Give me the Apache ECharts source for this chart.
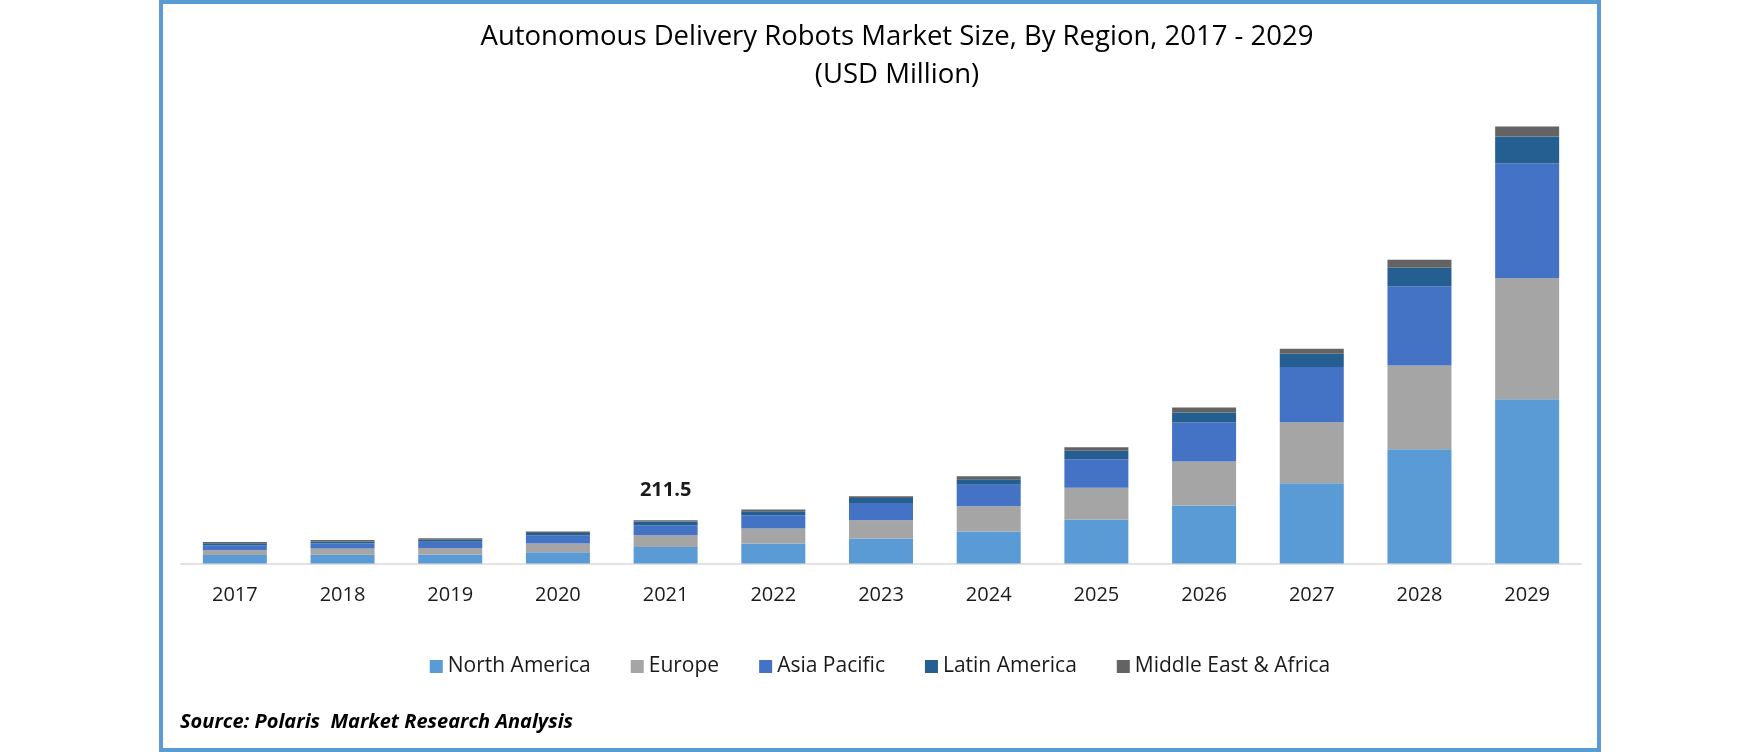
<!DOCTYPE html>
<html>
<head>
<meta charset="utf-8">
<title>Autonomous Delivery Robots Market Size</title>
<script src="https://cdn.jsdelivr.net/npm/echarts@6/dist/echarts.min.js"></script>
<style>
    html, body { margin: 0; padding: 0; background: #fff; }
    #chart { width: 1760px; height: 752px; }
</style>
</head>
<body>
<div id="chart"></div>
<script>
// values (USD million)
const years = ["2017", "2018", "2019", "2020", "2021", "2022", "2023", "2024", "2025", "2026", "2027", "2028", "2029"];
const northAmerica = [42, 43, 44, 55, 81, 97.6, 122, 156, 215, 284, 392, 558, 802];
const europe = [23, 30, 32, 42.5, 57.1, 73.2, 89.3, 124, 155, 215, 298, 410, 592];
const asiaPacific = [24.4, 25, 30, 40.5, 48.8, 64.9, 84.4, 105, 140, 190, 270, 387, 560];
const latinAmerica = [9.8, 9.5, 10, 11.2, 18.1, 19.5, 24.4, 26.4, 40.5, 48.8, 65.4, 89.8, 132];
const middleEastAfrica = [6.3, 7.5, 7, 6.8, 6.5, 8.3, 8.3, 14.6, 18, 24.4, 24.4, 39, 48.8];

const labelYear = "2021";
const labelValue = 211.5;

const regions = [
    { name: "North America", data: northAmerica, color: "#5B9BD5" },
    { name: "Europe", data: europe, color: "#A5A5A5" },
    { name: "Asia Pacific", data: asiaPacific, color: "#4472C4" },
    { name: "Latin America", data: latinAmerica, color: "#255E91" },
    { name: "Middle East & Africa", data: middleEastAfrica, color: "#636363" }
];

const font = "'Open Sans', 'Noto Sans', sans-serif";

const series = regions.map((r, i) => {
    const last = i === regions.length - 1;
    return {
        name: r.name,
        type: "bar",
        stack: "total",
        barWidth: 64,
        itemStyle: { color: r.color },
        data: r.data.map((v, k) => {
            if (last && years[k] === labelYear) {
                return {
                    value: v,
                    label: {
                        show: true,
                        position: "top",
                        distance: 20,
                        formatter: () => String(labelValue),
                        fontFamily: font,
                        fontSize: 20,
                        fontWeight: "bold",
                        color: "#1a1a1a"
                    }
                };
            }
            return v;
        })
    };
});

const chart = echarts.init(document.getElementById("chart"));

chart.setOption({
    backgroundColor: "#fff",
    animation: false,
    title: {
        text: "Autonomous Delivery Robots Market Size, By Region, 2017 - 2029\n(USD Million)",
        left: 892,
        top: 13,
        textAlign: "center",
        textStyle: {
            fontFamily: font,
            fontSize: 27.5,
            fontWeight: "normal",
            color: "#000",
            lineHeight: 38
        }
    },
    legend: {
        top: 651,
        left: "center",
        icon: "rect",
        itemWidth: 13,
        itemHeight: 13,
        itemGap: 40,
        textStyle: { fontFamily: font, fontSize: 21, color: "#1a1a1a" },
        data: regions.map(r => r.name)
    },
    grid: {
        left: 181,
        right: 179,
        top: 101,
        bottom: 188.5,
        containLabel: false
    },
    xAxis: {
        type: "category",
        data: years,
        axisLine: { lineStyle: { color: "#D9D9D9", width: 1.5 } },
        axisTick: { show: false },
        axisLabel: {
            margin: 22,
            fontFamily: font,
            fontSize: 20,
            color: "#1a1a1a"
        }
    },
    yAxis: {
        type: "value",
        min: 0,
        max: 2260,
        show: false,
        splitLine: { show: false }
    },
    graphic: [
        {
            type: "rect",
            shape: { x: 161, y: 2, width: 1438, height: 748 },
            style: { fill: "none", stroke: "#5B9BD5", lineWidth: 4 },
            silent: true
        },
        {
            type: "text",
            left: 180,
            top: 712,
            style: {
                text: "Source: Polaris  Market Research Analysis",
                font: "italic bold 20px 'Open Sans', sans-serif",
                fill: "#000"
            }
        }
    ],
    series: series
});

window.addEventListener("resize", () => chart.resize());
</script>
</body>
</html>
